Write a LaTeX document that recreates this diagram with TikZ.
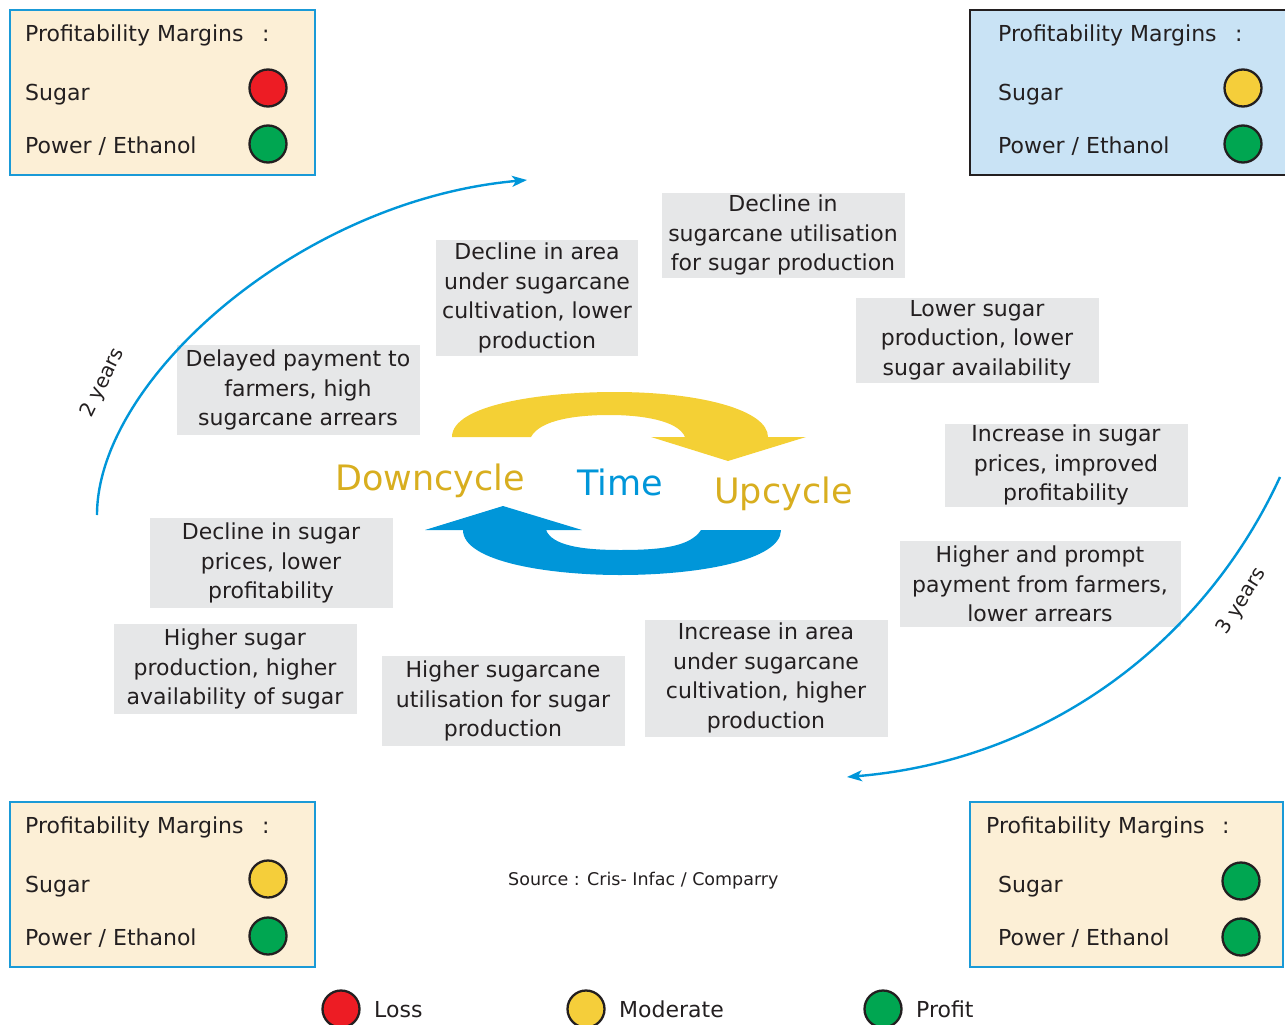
\documentclass[tikz,border=0pt]{standalone}
\usepackage{fontspec}
\setmainfont{DejaVu Sans}
\usetikzlibrary{arrows.meta}
\definecolor{ink}{HTML}{231F20}
\definecolor{frameblue}{HTML}{1A9AD7}
\definecolor{cream}{HTML}{FCEFD6}
\definecolor{paleblue}{HTML}{C9E3F5}
\definecolor{boxgrey}{HTML}{E6E7E8}
\definecolor{lossred}{HTML}{ED1C24}
\definecolor{modyellow}{HTML}{F5CE3A}
\definecolor{profgreen}{HTML}{00A651}
\definecolor{upyellow}{HTML}{F4D035}
\definecolor{downblue}{HTML}{0096D9}
\definecolor{gold}{HTML}{D8AE1F}
\begin{document}
\begin{tikzpicture}[x=1pt,y=-1pt,
	txt/.style={text=ink,inner sep=0pt,font=\fontsize{22}{29.5}\selectfont},
	grey/.style={txt,fill=boxgrey,align=center},
	pm/.style={txt,anchor=base west},
	dot/.style={circle,draw=ink,line width=2.3pt,minimum size=37pt,inner sep=0pt},
	cyc/.style={draw=downblue,line width=2.4pt,-{Stealth[length=15pt,width=11pt,inset=4pt]}},
	big/.style={anchor=base west,inner sep=0pt,font=\fontsize{35}{40}\selectfont}]
		\useasboundingbox (0,0) rectangle (1285,1025);
		% margin boxes in the corners
		\draw[frameblue,fill=cream,line width=2.2pt] (10,10) rectangle (315,175);
		\node[pm] (T1) at (25,42) {Profitability Margins};
		\node[pm] (C1) at (262,42) {:};
		\node[pm] (S1) at (25,100) {Sugar};
		\node[pm] (P1) at (25,153) {Power / Ethanol};
		\node[dot,fill=lossred] (s1) at (268,88) {};
		\node[dot,fill=profgreen] (p1) at (268,144) {};
		\draw[ink,fill=paleblue,line width=2.2pt] (970,10) rectangle (1290,175);
		\node[pm] (T2) at (998,42) {Profitability Margins};
		\node[pm] (C2) at (1235,42) {:};
		\node[pm] (S2) at (998,100) {Sugar};
		\node[pm] (P2) at (998,153) {Power / Ethanol};
		\node[dot,fill=modyellow] (s2) at (1243,88) {};
		\node[dot,fill=profgreen] (p2) at (1243,144) {};
		\draw[frameblue,fill=cream,line width=2.2pt] (10,802) rectangle (315,967);
		\node[pm] (T3) at (25,833) {Profitability Margins};
		\node[pm] (C3) at (262,833) {:};
		\node[pm] (S3) at (25,892) {Sugar};
		\node[pm] (P3) at (25,945) {Power / Ethanol};
		\node[dot,fill=modyellow] (s3) at (268,879) {};
		\node[dot,fill=profgreen] (p3) at (268,936) {};
		\draw[frameblue,fill=cream,line width=2.2pt] (970,802) rectangle (1283,967);
		\node[pm] (T4) at (986,833) {Profitability Margins};
		\node[pm] (C4) at (1222,833) {:};
		\node[pm] (S4) at (998,892) {Sugar};
		\node[pm] (P4) at (998,945) {Power / Ethanol};
		\node[dot,fill=profgreen] (s4) at (1241,881) {};
		\node[dot,fill=profgreen] (p4) at (1241,937) {};
		% the cycle: causes and effects
		\node[grey,minimum width=202,minimum height=116] (A) at (537,298) {Decline in area\\under sugarcane\\cultivation, lower\\production};
		\node[grey,minimum width=243,minimum height=85] (B) at (783,235) {Decline in\\sugarcane utilisation\\for sugar production};
		\node[grey,minimum width=243,minimum height=85] (C) at (977,340) {Lower sugar\\production, lower\\sugar availability};
		\node[grey,minimum width=243,minimum height=83] (D) at (1066,465) {Increase in sugar\\prices, improved\\profitability};
		\node[grey,minimum width=281,minimum height=86] (E) at (1040,584) {Higher and prompt\\payment from farmers,\\lower arrears};
		\node[grey,minimum width=243,minimum height=117] (F) at (766,678) {Increase in area\\under sugarcane\\cultivation, higher\\production};
		\node[grey,minimum width=243,minimum height=90] (G) at (503,701) {Higher sugarcane\\utilisation for sugar\\production};
		\node[grey,minimum width=243,minimum height=90] (H) at (235,669) {Higher sugar\\production, higher\\availability of sugar};
		\node[grey,minimum width=243,minimum height=90] (I) at (271,563) {Decline in sugar\\prices, lower\\profitability};
		\node[grey,minimum width=243,minimum height=90] (J) at (298,390) {Delayed payment to\\farmers, high\\sugarcane arrears};
		% round arrows in the middle
		\fill[upyellow] (452,437) .. controls (452,405) and (540,392) .. (615,392)
			.. controls (700,392) and (768,410) .. (768,437) -- (806,437) -- (728,461) -- (651,437) -- (685,437)
			.. controls (678,420) and (640,415) .. (610,415) .. controls (575,415) and (540,420) .. (531,437) -- cycle;
		\fill[downblue] (463,530) .. controls (463,562) and (550,575) .. (620,575)
			.. controls (700,575) and (781,560) .. (781,530) -- (701,530)
			.. controls (690,547) and (660,550) .. (620,550) .. controls (580,550) and (552,545) .. (546,530)
			-- (582,530) -- (503,506) -- (425,530) -- cycle;
		\node[big,text=gold] (dn) at (335,490) {Downcycle};
		\node[big,text=downblue] (tm) at (577,495) {Time};
		\node[big,text=gold] (up) at (714,503) {Upcycle};
		% durations
		\coordinate (a0) at (97,515);
		\coordinate (a1) at (527,180);
		\draw[cyc] (a0) .. controls (97,380) and (300,200) .. (a1);
		\node[txt,rotate=64,font=\fontsize{20}{24}\selectfont] (y2) at (103,383) {2 years};
		\coordinate (b0) at (1280,477);
		\coordinate (b1) at (847,777);
		\draw[cyc] (b0) .. controls (1205,640) and (1050,760) .. (b1);
		\node[txt,rotate=58,font=\fontsize{20}{24}\selectfont] (y3) at (1242,601) {3 years};
		\node[txt,anchor=base west,font=\fontsize{17.5}{20}\selectfont] (src) at (508,885) {Source : Cris- Infac / Comparry};
		% legend
		\node[dot,fill=lossred] (L) at (341,1009) {};
		\node[pm] (Lt) at (374,1017) {Loss};
		\node[dot,fill=modyellow] (M) at (586,1009) {};
		\node[pm] (Mt) at (619,1017) {Moderate};
		\node[dot,fill=profgreen] (P) at (883,1009) {};
		\node[pm] (Pt) at (916,1017) {Profit};
\end{tikzpicture}
\end{document}
